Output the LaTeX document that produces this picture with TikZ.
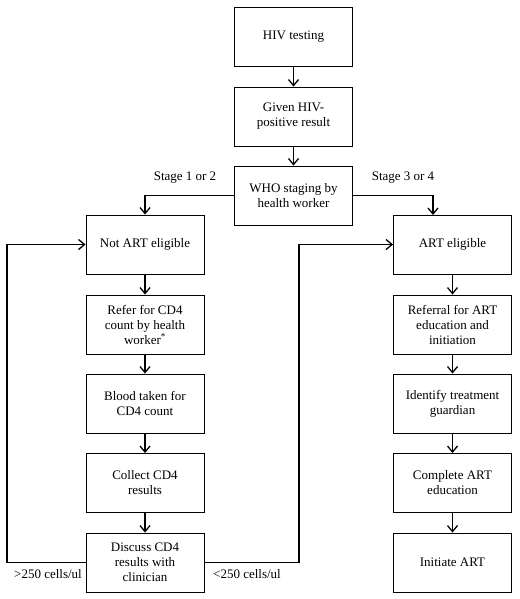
\documentclass[tikz,border=0pt]{standalone}
\usepackage{fontspec}
\setmainfont{Liberation Serif}
\usetikzlibrary{arrows.meta}
\begin{document}
\begin{tikzpicture}[x=1pt,y=-1pt,
  box/.style={draw,line width=0.9pt,minimum width=118pt,minimum height=59pt,inner sep=2pt,
    align=center,font=\fontsize{13}{15}\selectfont},
  flow/.style={line width=1.3pt,-{Straight Barb[length=6pt,width=10pt,line width=1.3pt]}},
  lab/.style={font=\fontsize{13}{15}\selectfont}]
\useasboundingbox (0,0) rectangle (519,599);
\node[box] (hiv) at (293.5,36.5) {HIV testing};
\node[box] (given) at (293.5,116.5) {Given HIV-\\positive result};
\node[box] (who) at (293.5,195.5) {WHO staging by\\health worker};
\node[box] (notart) at (145,244.5) {Not ART eligible};
\node[box] (refer) at (145,324.5) {Refer for CD4\\count by health\\worker\textsuperscript{*}};
\node[box] (blood) at (145,403.5) {Blood taken for\\CD4 count};
\node[box] (collect) at (145,483) {Collect CD4\\results};
\node[box] (discuss) at (145,562.5) {Discuss CD4\\results with\\clinician};
\node[box] (art) at (452.5,244.5) {ART eligible};
\node[box] (referral) at (452.5,324.5) {Referral for ART\\education and\\initiation};
\node[box] (identify) at (452.5,403.5) {Identify treatment\\guardian};
\node[box] (complete) at (452.5,483) {Complete ART\\education};
\node[box] (initiate) at (452.5,562.5) {Initiate ART};
\coordinate (artin) at (433,215);
\coordinate (lloop) at (7,0);
\coordinate (rloop) at (299,0);
\draw[flow] (hiv) -- (given);
\draw[flow] (given) -- (who);
\draw[flow] (who.west) -| (notart.north);
\draw[flow] (who.east) -| (artin);
\draw[flow] (notart) -- (refer);
\draw[flow] (refer) -- (blood);
\draw[flow] (blood) -- (collect);
\draw[flow] (collect) -- (discuss);
\draw[flow] (art) -- (referral);
\draw[flow] (referral) -- (identify);
\draw[flow] (identify) -- (complete);
\draw[flow] (complete) -- (initiate);
\draw[flow] (discuss.west) -- (discuss.west -| lloop) |- (notart.west);
\draw[flow] (discuss.east) -- (discuss.east -| rloop) |- (art.west);
\node[lab] (s12) at (185,178) {Stage 1 or 2};
\node[lab] (s34) at (403,178) {Stage 3 or 4};
\node[lab] (gt) at (48,574) {>250 cells/ul};
\node[lab] (lt) at (247,574) {<250 cells/ul};
\end{tikzpicture}
\end{document}
